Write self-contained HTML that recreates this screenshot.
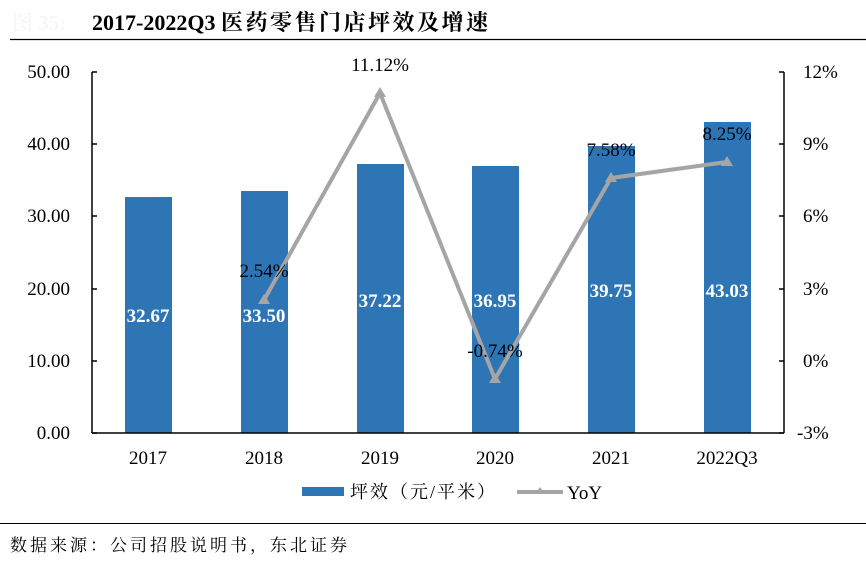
<!DOCTYPE html>
<html><head><meta charset="utf-8"><style>
body{margin:0;background:#fff;}
svg{display:block;}
text{font-family:"Liberation Serif","Noto Serif CJK SC",serif;}
</style></head><body>
<svg width="866" height="562" viewBox="0 0 866 562" xmlns="http://www.w3.org/2000/svg">
<text x="12" y="30" font-size="21" fill="#f7f7f7" font-weight="bold">图 35:</text>
<text x="92" y="30" font-size="22" font-weight="bold" fill="#000"><tspan>2017-2022Q3 </tspan><tspan letter-spacing="2.5">医药零售门店坪效及增速</tspan></text>
<line x1="10" y1="39.5" x2="866" y2="39.5" stroke="#000" stroke-width="1.2"/>
<g fill="#2e75b6">
<rect x="125" y="197" width="47" height="236"/>
<rect x="241" y="191" width="47" height="242"/>
<rect x="357" y="164" width="47" height="269"/>
<rect x="472" y="166" width="47" height="267"/>
<rect x="588" y="146" width="47" height="287"/>
<rect x="704" y="122" width="47" height="311"/>
</g>
<g stroke="#000" stroke-width="1.5" fill="none">
<line x1="92" y1="72" x2="92" y2="433"/>
<line x1="92" y1="433" x2="784" y2="433"/>
<line x1="784" y1="72" x2="784" y2="433"/>
<path d="M92 72h5M92 144h5M92 216h5M92 289h5M92 361h5M92 433h5"/>
<path d="M784 72h-5M784 144h-5M784 216h-5M784 289h-5M784 361h-5M784 433h-5"/>
</g>
<g font-size="19" text-anchor="end" fill="#000">
<text x="70" y="78">50.00</text><text x="70" y="150">40.00</text><text x="70" y="222">30.00</text>
<text x="70" y="295">20.00</text><text x="70" y="367">10.00</text><text x="70" y="439">0.00</text>
</g>
<g font-size="19" fill="#000">
<text x="803" y="78">12%</text><text x="803" y="150">9%</text><text x="803" y="222">6%</text>
<text x="803" y="295">3%</text><text x="803" y="367">0%</text><text x="797" y="439">-3%</text>
</g>
<g font-size="19" text-anchor="middle" fill="#000">
<text x="148" y="464">2017</text><text x="264" y="464">2018</text><text x="380" y="464">2019</text>
<text x="495" y="464">2020</text><text x="611" y="464">2021</text><text x="727" y="464">2022Q3</text>
</g>
<g font-size="19" text-anchor="middle" fill="#fff" font-weight="bold">
<text x="148" y="322">32.67</text><text x="264" y="322">33.50</text><text x="380" y="307">37.22</text>
<text x="495" y="307">36.95</text><text x="611" y="297">39.75</text><text x="727" y="297">43.03</text>
</g>
<polyline points="264,300 380,93 495,379 611,178 727,162" fill="none" stroke="#a5a5a5" stroke-width="4" stroke-linejoin="round"/>
<g fill="#a5a5a5">
<path d="M264 294l6 10h-12z"/><path d="M380 87l6 10h-12z"/><path d="M495 373l6 10h-12z"/>
<path d="M611 172l6 10h-12z"/><path d="M727 156l6 10h-12z"/>
</g>
<g font-size="19" text-anchor="middle" fill="#000">
<text x="264" y="277">2.54%</text><text x="380" y="71">11.12%</text><text x="495" y="357">-0.74%</text>
<text x="611" y="156">7.58%</text><text x="727" y="140">8.25%</text>
</g>
<rect x="302" y="487" width="42" height="9" fill="#2e75b6"/>
<text x="350" y="498" font-size="18" fill="#000" letter-spacing="2">坪效（元/平米）</text>
<line x1="517" y1="492" x2="563" y2="492" stroke="#a5a5a5" stroke-width="4"/>
<path d="M540 487l5 7h-10z" fill="#a5a5a5"/>
<text x="567" y="499" font-size="19" fill="#000">YoY</text>
<line x1="0" y1="523.5" x2="866" y2="523.5" stroke="#000" stroke-width="1"/>
<text x="10" y="551" font-size="17" fill="#000" letter-spacing="3">数据来源：公司招股说明书，东北证券</text>
</svg>
</body></html>
